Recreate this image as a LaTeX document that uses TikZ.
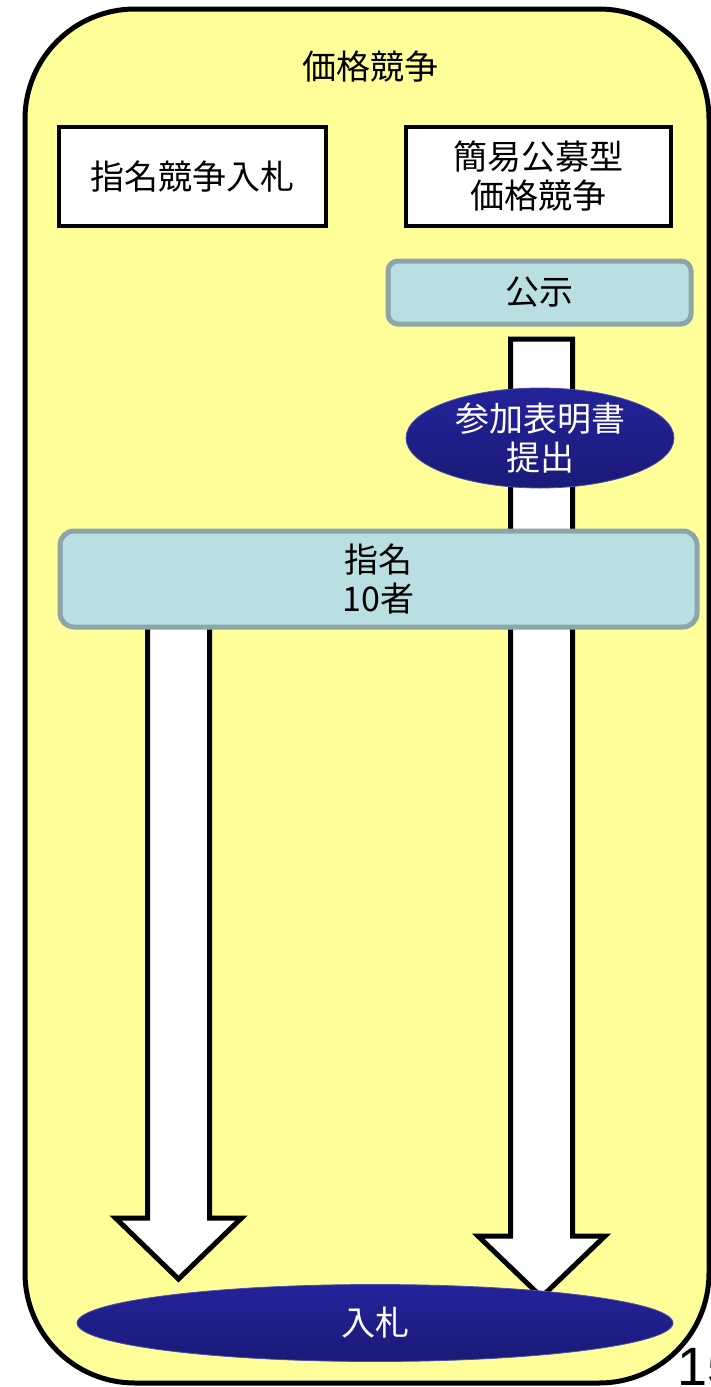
\documentclass[tikz,border=0pt]{standalone}
\usepackage{fontspec}
\newfontfamily\jp{Noto Sans CJK JP}
\newfontfamily\lat{Liberation Sans}
\usetikzlibrary{shapes.geometric}
\definecolor{bgyellow}{HTML}{FFFF99}
\definecolor{boxblue}{HTML}{B9DFE2}
\definecolor{boxedge}{HTML}{8BA5A8}
\definecolor{navytop}{HTML}{23239A}
\definecolor{navybot}{HTML}{1A1A78}
\tikzset{
  txt/.style={font=\jp\fontsize{34}{39}\selectfont, align=center, inner sep=0pt},
  whitebox/.style={draw=black, line width=4pt, fill=white, inner sep=0pt, txt},
  bluebox/.style={draw=boxedge, line width=5pt, fill=boxblue, inner sep=0pt, txt},
  navyell/.style={ellipse, draw=navytop!80!white, line width=0.8pt, top color=navytop, bottom color=navybot, inner sep=0pt, txt, text=white},
  blockarrow/.style={draw=black, line width=5pt, fill=white, line join=miter},
}
\begin{document}
\begin{tikzpicture}[x=1pt, y=-1pt]
\useasboundingbox (0,0) rectangle (710,1387);
% outer frame
\draw[line width=5pt, fill=bgyellow, rounded corners=110pt] (25,9) rectangle (709,1383);
\node[txt, anchor=center] (title) at (370,67) {価格競争};
% block arrows
\draw[blockarrow] (147.5,625) -- (147.5,1218) -- (115.5,1218) -- (178.5,1279) -- (241.5,1218) -- (209.5,1218) -- (209.5,625) -- cycle;
\draw[blockarrow] (510.5,339) -- (510.5,1236) -- (478,1236) -- (541.5,1297) -- (605,1236) -- (572.5,1236) -- (572.5,339) -- cycle;
% boxes
\node[whitebox, minimum width=267pt, minimum height=99pt] (shimei) at (192.5,176.5) {指名競争入札};
\node[whitebox, minimum width=265pt, minimum height=99pt] (kanni) at (538.5,176.5) {簡易公募型\\価格競争};
\node[bluebox, rounded corners=10pt, minimum width=303pt, minimum height=63pt] (koji) at (539.5,292.5) {公示};
\node[navyell, minimum width=268pt, minimum height=100pt] (sanka) at (540,438) {参加表明書\\提出};
\node[bluebox, rounded corners=14pt, minimum width=637pt, minimum height=96pt] (shimei10) at (378.5,579) {指名\\10者};
\node[navyell, minimum width=596pt, minimum height=77pt] (nyusatsu) at (375,1323) {入札};
\node[font=\lat\fontsize{54}{60}\selectfont, anchor=base west, inner sep=0pt] (pagenum) at (677,1385) {15};
\end{tikzpicture}
\end{document}
